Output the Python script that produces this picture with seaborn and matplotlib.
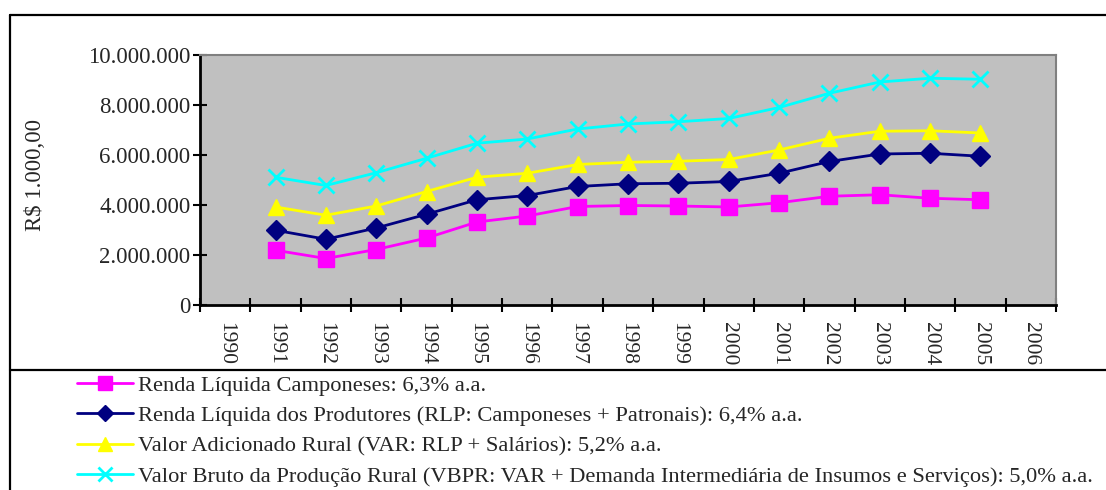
import pandas as pd
import seaborn as sns
import matplotlib.pyplot as plt
from matplotlib.lines import Line2D
from matplotlib.ticker import FuncFormatter, FixedLocator

# Data (R$ 1.000,00)
years = list(range(1991, 2006))
renda_camponeses = [2190000, 1860000, 2220000, 2680000, 3320000, 3560000, 3940000, 3980000,
                    3960000, 3920000, 4090000, 4350000, 4410000, 4270000, 4210000]
renda_produtores = [2990000, 2630000, 3080000, 3630000, 4210000, 4380000, 4740000, 4850000,
                    4870000, 4940000, 5270000, 5740000, 6040000, 6070000, 5950000]
valor_adicionado = [3920000, 3590000, 3960000, 4540000, 5110000, 5270000, 5620000, 5710000,
                    5750000, 5820000, 6200000, 6670000, 6950000, 6970000, 6880000]
valor_bruto = [5110000, 4780000, 5290000, 5870000, 6470000, 6640000, 7040000, 7240000,
               7330000, 7460000, 7900000, 8470000, 8920000, 9070000, 9030000]

axis_years = list(range(1990, 2007))
labels = [
    "Renda Líquida Camponeses: 6,3% a.a.",
    "Renda Líquida dos Produtores (RLP: Camponeses + Patronais): 6,4% a.a.",
    "Valor Adicionado Rural (VAR: RLP + Salários): 5,2% a.a.",
    "Valor Bruto da Produção Rural (VBPR: VAR + Demanda Intermediária de Insumos e Serviços): 5,0% a.a.",
]
series = [renda_camponeses, renda_produtores, valor_adicionado, valor_bruto]
colors = ["#FF00FF", "#000080", "#FFFF00", "#00FFFF"]
markers = ["s", "D", "^", "x"]
msizes = [12, 10, 12, 12]

sns.set_style("white")
plt.rcParams["font.family"] = ["Liberation Serif", "DejaVu Serif"]

fig = plt.figure(figsize=(11.06, 4.9), dpi=100)
W, H = 1106, 490
ax = fig.add_axes([200 / W, 1 - 305 / H, 856 / W, 250 / H])
ax.set_facecolor("#C0C0C0")

for vals, lab, col, mk, ms in zip(series, labels, colors, markers, msizes):
    df = pd.DataFrame({"ano": years, "valor": vals})
    sns.lineplot(data=df, x="ano", y="valor", ax=ax, color=col, marker=mk,
                 markersize=ms, markeredgecolor=col, markeredgewidth=2 if mk == "x" else 1,
                 linewidth=2, label=lab, legend=False)

ax.set_xlim(axis_years[0] - 0.5, axis_years[-1] + 0.5)
ax.set_ylim(0, 10000000)
ax.set_yticks(range(0, 10000001, 2000000))
ax.yaxis.set_major_formatter(FuncFormatter(lambda v, p: f"{int(v):,}".replace(",", ".")))

# ticks at category boundaries, labels at category centres
ax.xaxis.set_major_locator(FixedLocator([y - 0.5 for y in axis_years] + [axis_years[-1] + 0.5]))
ax.xaxis.set_major_formatter(FuncFormatter(lambda v, p: ""))
ax.set_xticks(axis_years, minor=True)
ax.set_xticklabels([str(y) for y in axis_years], minor=True, rotation=270, fontsize=15.5)
ax.tick_params(axis="x", which="minor", bottom=True, length=0, pad=12)
ax.tick_params(axis="x", which="major", bottom=True, direction="inout", length=10,
               width=1.5, color="black")
ax.tick_params(axis="y", left=True, direction="inout", length=10, width=1.5, color="black",
               labelsize=16.5, pad=2)
ax.set_xlabel("")
ax.set_ylabel("R$ 1.000,00", fontsize=16.5)
ax.yaxis.set_label_coords(-154 / 856, 0.52)

for side in ["left", "bottom"]:
    ax.spines[side].set_color("black")
    ax.spines[side].set_linewidth(2)
for side in ["top", "right"]:
    ax.spines[side].set_color("#808080")
    ax.spines[side].set_linewidth(1.5)
    ax.spines[side].set_visible(True)

# frame lines around the chart
fig.add_artist(Line2D([10 / W, 1], [1 - 15 / H, 1 - 15 / H], color="black", lw=1.6))
fig.add_artist(Line2D([10 / W, 10 / W], [0, 1 - 15 / H], color="black", lw=1.6))
fig.add_artist(Line2D([10 / W, 1], [1 - 370 / H, 1 - 370 / H], color="black", lw=1.6))

handles = [Line2D([], [], color=c, marker=m, markersize=ms * 0.85, markeredgecolor=c,
                  markeredgewidth=2 if m == "x" else 1, lw=2)
           for c, m, ms in zip(colors, markers, msizes)]
fig.legend(handles, labels, loc="upper left", bbox_to_anchor=(68 / W, 1 - 366 / H),
           frameon=False, fontsize=16.2, handlelength=2.5, handletextpad=0.2,
           labelspacing=0.435, borderaxespad=0, numpoints=1)

fig.savefig("out.png", dpi=100)
